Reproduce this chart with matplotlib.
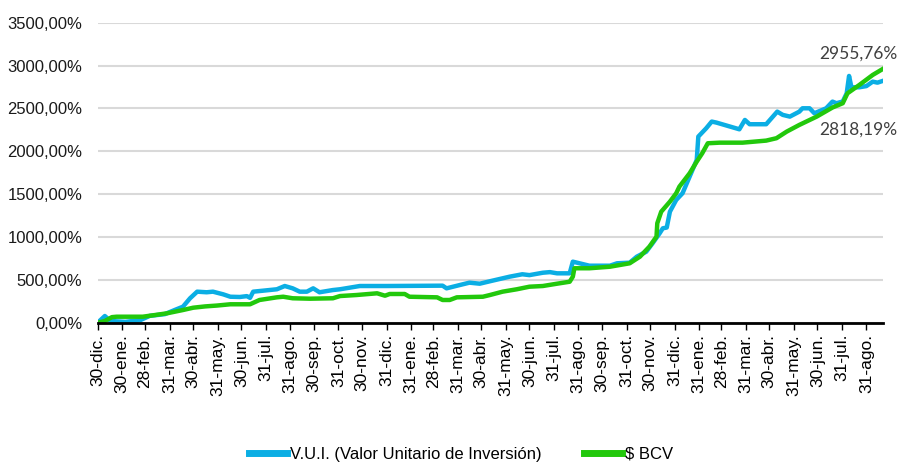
import numpy as np
import pandas as pd
import matplotlib
matplotlib.use('Agg')
import matplotlib.pyplot as plt
from matplotlib.ticker import FuncFormatter

# fecha de inicio de la serie
inicio = pd.Timestamp('2020-12-30')

# V.U.I. (dias desde el inicio, rendimiento %)
vui_dias = [0, 9, 16, 35, 54, 66, 85, 98, 108, 117, 126, 138, 146, 159, 168, 180, 189, 193, 197, 209,
            227, 237, 247, 256, 265, 273, 281, 298, 307, 332, 366, 437, 442, 459, 471, 484, 500, 522, 538, 547,
            564, 573, 582, 598, 602, 614, 623, 649, 658, 674, 683, 695, 703, 712, 716, 721, 725, 733, 741, 750,
            759, 761, 771, 778, 784, 813, 820, 826, 847, 861, 868, 877, 889, 893, 902, 908, 923, 931, 936, 944,
            949, 952, 955, 965, 974, 982, 988, 994]
vui_vals = [0, 78, 20, 10, 30, 80, 100, 150, 187, 285, 362, 355, 362, 331, 303, 300, 310, 290, 362, 373,
            390, 428, 401, 362, 362, 401, 355, 381, 390, 428, 428, 432, 401, 440, 467, 455, 490, 537, 565, 555,
            583, 590, 576, 576, 712, 685, 665, 665, 693, 700, 770, 828, 926, 1043, 1101, 1110, 1295, 1432, 1510, 1704,
            1899, 2171, 2268, 2346, 2334, 2256, 2365, 2315, 2315, 2462, 2424, 2404, 2462, 2501, 2501, 2443, 2501, 2579, 2560, 2580,
            2676, 2878, 2746, 2746, 2760, 2812, 2800, 2818.19]

# $ BCV
bcv_dias = [0, 9, 18, 24, 57, 73, 88, 108, 121, 136, 151, 168, 193, 205, 227, 235, 247, 269, 298, 307,
            328, 354, 364, 370, 389, 395, 430, 437, 446, 455, 488, 497, 513, 531, 547, 564, 582, 598, 602, 604,
            623, 649, 674, 687, 699, 708, 709, 714, 725, 733, 737, 750, 759, 766, 773, 788, 817, 847, 860, 873,
            889, 911, 931, 944, 950, 965, 982, 994]
bcv_vals = [0, 20, 65, 70, 70, 90, 110, 148, 175, 190, 200, 215, 215, 265, 296, 303, 285, 280, 285, 311,
            323, 343, 315, 335, 335, 303, 296, 265, 265, 296, 303, 323, 362, 390, 420, 428, 455, 478, 537, 635,
            635, 653, 693, 770, 887, 1004, 1160, 1295, 1412, 1510, 1587, 1743, 1879, 1977, 2093, 2100, 2100, 2124, 2152, 2229,
            2307, 2404, 2510, 2560, 2676, 2773, 2890, 2955.76]

# ticks del eje x
tick_fechas = ['2020-12-30', '2021-01-30', '2021-02-28', '2021-03-31', '2021-04-30', '2021-05-31', '2021-06-30',
               '2021-07-31', '2021-08-31', '2021-09-30', '2021-10-31', '2021-11-30', '2021-12-31',
               '2022-01-31', '2022-02-28', '2022-03-31', '2022-04-30', '2022-05-31', '2022-06-30',
               '2022-07-31', '2022-08-31', '2022-09-30', '2022-10-31', '2022-11-30', '2022-12-31',
               '2023-01-31', '2023-02-28', '2023-03-31', '2023-04-30', '2023-05-31', '2023-06-30',
               '2023-07-31', '2023-08-31']
tick_labels = ['30-dic.', '30-ene.', '28-feb.', '31-mar.', '30-abr.', '31-may.', '30-jun.', '31-jul.', '31-ago.',
               '30-sep.', '31-oct.', '30-nov.', '31-dic.', '31-ene.', '28-feb.', '31-mar.', '30-abr.', '31-may.',
               '30-jun.', '31-jul.', '31-ago.', '30-sep.', '31-oct.', '30-nov.', '31-dic.', '31-ene.', '28-feb.',
               '31-mar.', '30-abr.', '31-may.', '30-jun.', '31-jul.', '31-ago.']

azul = '#0BAEE4'
verde = '#22C80C'
plt.rcParams['font.family'] = ['Liberation Sans', 'DejaVu Sans']

fig = plt.figure(figsize=(8.99, 4.62), dpi=100)
ax = fig.add_axes([0.1087, 0.3015, 0.8735, 0.6495])

x_vui = inicio + pd.to_timedelta(vui_dias, unit='D')
x_bcv = inicio + pd.to_timedelta(bcv_dias, unit='D')

ax.plot(x_vui, vui_vals, color=azul, linewidth=3.2, solid_joinstyle='round', label='V.U.I. (Valor Unitario de Inversión)')
ax.plot(x_bcv, bcv_vals, color=verde, linewidth=3.2, solid_joinstyle='round', label='$ BCV')

ax.set_ylim(0, 3500)
ax.set_yticks(np.arange(0, 3501, 500))
ax.yaxis.set_major_formatter(FuncFormatter(lambda v, p: f'{v:.2f}'.replace('.', ',') + '%'))
ax.set_xlim(inicio, inicio + pd.Timedelta(days=995))
ax.set_xticks(pd.to_datetime(tick_fechas))
ax.set_xticklabels(tick_labels, rotation=90, fontsize=12.5)

ax.grid(axis='y', color='#d9d9d9', linewidth=1.5)
ax.set_axisbelow(True)
for s in ['top', 'right', 'left']:
    ax.spines[s].set_visible(False)
ax.spines['bottom'].set_linewidth(2)
ax.spines['bottom'].set_color('black')
ax.tick_params(axis='y', length=0, pad=11, labelsize=12, labelcolor='#1a1a1a')
ax.tick_params(axis='x', length=5, width=1, direction='out', pad=3)

# etiquetas de valor final
fig.text(897 / 899, 1 - 54 / 462, '2955,76%', ha='right', va='center', fontsize=12.5, color='#404040', family='Lato')
fig.text(897 / 899, 1 - 130 / 462, '2818,19%', ha='right', va='center', fontsize=12.5, color='#404040', family='Lato')

leg = fig.legend(loc='lower center', bbox_to_anchor=(0.513, -0.032), ncol=2, frameon=False,
                 handlelength=2.3, columnspacing=2.5, handletextpad=0.2,
                 prop={'size': 12})
for l in leg.get_lines():
    l.set_linewidth(5)

fig.savefig('out.png', dpi=100)
